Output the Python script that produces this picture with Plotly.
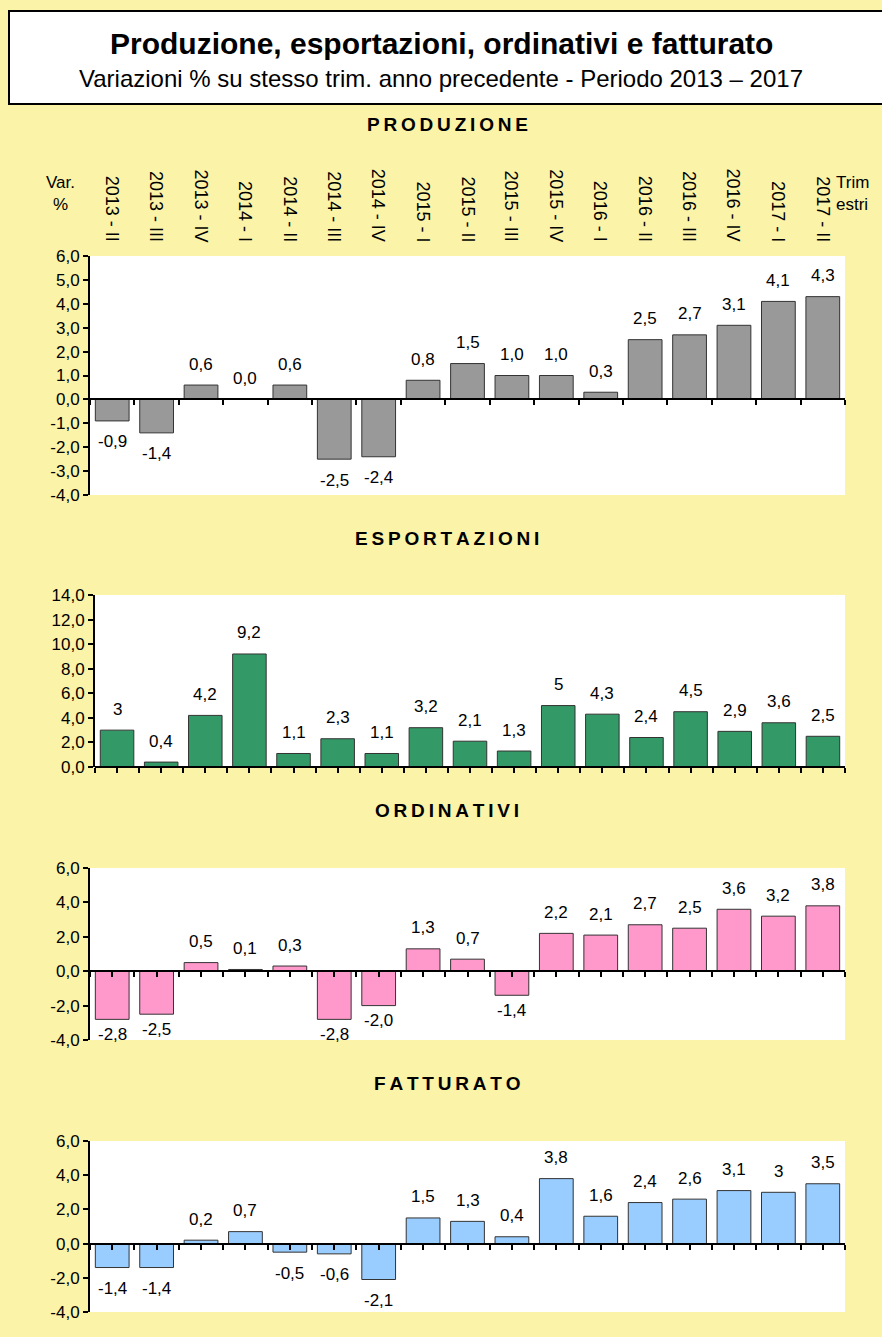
import plotly.graph_objects as go

# Data
categories = ["2013 - II", "2013 - III", "2013 - IV", "2014 - I", "2014 - II",
              "2014 - III", "2014 - IV", "2015 - I", "2015 - II", "2015 - III",
              "2015 - IV", "2016 - I", "2016 - II", "2016 - III", "2016 - IV",
              "2017 - I", "2017 - II"]
produzione = [-0.9, -1.4, 0.6, 0.0, 0.6, -2.5, -2.4, 0.8, 1.5, 1.0, 1.0, 0.3, 2.5, 2.7, 3.1, 4.1, 4.3]
esportazioni = [3, 0.4, 4.2, 9.2, 1.1, 2.3, 1.1, 3.2, 2.1, 1.3, 5, 4.3, 2.4, 4.5, 2.9, 3.6, 2.5]
ordinativi = [-2.8, -2.5, 0.5, 0.1, 0.3, -2.8, -2.0, 1.3, 0.7, -1.4, 2.2, 2.1, 2.7, 2.5, 3.6, 3.2, 3.8]
fatturato = [-1.4, -1.4, 0.2, 0.7, -0.5, -0.6, -2.1, 1.5, 1.3, 0.4, 3.8, 1.6, 2.4, 2.6, 3.1, 3.0, 3.5]

ticks_produzione = [-4, -3, -2, -1, 0, 1, 2, 3, 4, 5, 6]
ticks_esportazioni = [0, 2, 4, 6, 8, 10, 12, 14]
ticks_ordinativi = [-4, -2, 0, 2, 4, 6]
ticks_fatturato = [-4, -2, 0, 2, 4, 6]

TITLE = "Produzione, esportazioni, ordinativi e fatturato"
SUBTITLE = "Variazioni % su stesso trim. anno precedente - Periodo 2013 \u2013 2017"

W, H = 882, 1337
FONT = "Liberation Sans, Arial, sans-serif"
YELLOW = "#FAF3A8"


def py(p):
    # pixel from top -> paper fraction
    return 1 - p / H


def fmt_fixed(v):
    return f"{v:.1f}".replace(".", ",")


def fmt_general(v):
    return ("%g" % v).replace(".", ",")


def spaced(s):
    return "\u2009".join(s)


panels = [
    # name, values, colour, ticks, formatter, left px, top px, bottom px, title px, neg shift, minor ticks
    ("PRODUZIONE", produzione, "#999999", ticks_produzione, fmt_fixed, 90, 256, 495, 124, -21, False),
    ("ESPORTAZIONI", esportazioni, "#339966", ticks_esportazioni, fmt_general, 95, 595, 767, 538, -21, True),
    ("ORDINATIVI", ordinativi, "#FF99CC", ticks_ordinativi, fmt_fixed, 90, 868, 1040, 810, -15, True),
    ("FATTURATO", fatturato, "#99CCFF", ticks_fatturato, fmt_general, 90, 1141, 1312, 1083, -21, True),
]

fig = go.Figure()
annotations = []
layout = {}
x_pos = list(range(len(categories)))

for k, (name, vals, color, ticks, fmt, left, top, bottom, tpx, neg, minor) in enumerate(panels, start=1):
    xa = "x" if k == 1 else f"x{k}"
    ya = "y" if k == 1 else f"y{k}"
    fig.add_trace(go.Bar(
        x=x_pos, y=vals, xaxis=xa, yaxis=ya, width=0.76,
        marker=dict(color=color, line=dict(color="#333333", width=1)),
        hoverinfo="skip", showlegend=False,
    ))
    ymin, ymax = ticks[0], ticks[-1]
    y0, y1 = py(bottom), py(top)
    zero_pos = y0 + (0 - ymin) / (ymax - ymin) * (y1 - y0)
    layout["xaxis" if k == 1 else f"xaxis{k}"] = dict(
        domain=[left / W, 845 / W], range=[-0.5, len(categories) - 0.5],
        anchor="free", position=zero_pos, showline=True, linecolor="black", linewidth=2,
        ticks="outside", ticklen=5, tickwidth=2, tickcolor="black",
        tick0=-0.5 if minor else 0.5, dtick=0.5 if minor else 1,
        showticklabels=False, showgrid=False, zeroline=False, fixedrange=True,
    )
    layout["yaxis" if k == 1 else f"yaxis{k}"] = dict(
        domain=[y0, y1], range=[ymin, ymax], anchor=xa,
        tickvals=ticks, ticktext=[fmt_fixed(t) for t in ticks],
        showline=True, linecolor="black", linewidth=2,
        ticks="outside", ticklen=5, tickwidth=2, tickcolor="black",
        tickfont=dict(size=17, color="black"),
        showgrid=False, zeroline=False, fixedrange=True,
    )
    # value labels
    for i, v in enumerate(vals):
        annotations.append(dict(
            x=i, y=v, xref=xa, yref=ya, text=fmt(v), showarrow=False,
            xanchor="center", yanchor="middle",
            yshift=21 if v >= 0 else neg, font=dict(size=17, color="black"),
        ))
    # panel title
    annotations.append(dict(
        x=447 / W, y=py(tpx), xref="paper", yref="paper", text=f"<b>{spaced(name)}</b>",
        xanchor="center", yanchor="middle",
        showarrow=False, font=dict(size=19, color="black"),
    ))

# rotated category labels above the first panel
for i, c in enumerate(categories):
    annotations.append(dict(
        x=i, y=1, xref="x", yref="y domain", text=c, textangle=90,
        xanchor="center", yanchor="bottom", yshift=12, showarrow=False,
        font=dict(size=18, color="black"),
    ))
annotations.append(dict(x=60 / W, y=py(193), xref="paper", yref="paper", text="Var.<br>%",
                        xanchor="center", yanchor="middle",
                        showarrow=False, font=dict(size=17, color="black")))
annotations.append(dict(x=834 / W, y=py(193), xref="paper", yref="paper", text="Trim<br>estri",
                        xanchor="left", yanchor="middle", align="left", showarrow=False,
                        font=dict(size=17, color="black")))

# header
annotations.append(dict(x=0.5, y=py(44), xref="paper", yref="paper", text=f"<b>{TITLE}</b>",
                        xanchor="center", yanchor="middle",
                        showarrow=False, font=dict(size=30, color="black")))
annotations.append(dict(x=0.5, y=py(79), xref="paper", yref="paper", text=SUBTITLE,
                        xanchor="center", yanchor="middle",
                        showarrow=False, font=dict(size=24, color="black")))

shapes = [dict(type="rect", xref="paper", yref="paper", x0=9 / W, x1=1.02,
               y0=py(104), y1=py(11), fillcolor="white", line=dict(color="black", width=2),
               layer="below")]

fig.update_layout(
    width=W, height=H, margin=dict(l=0, r=0, t=0, b=0, pad=0, autoexpand=False),
    paper_bgcolor=YELLOW, plot_bgcolor="white",
    font=dict(family=FONT, color="black"),
    annotations=annotations, shapes=shapes, bargap=0.24,
    **layout,
)

fig.write_html("out.html", config={"displayModeBar": False},
               post_script="document.body.style.margin='0';")
